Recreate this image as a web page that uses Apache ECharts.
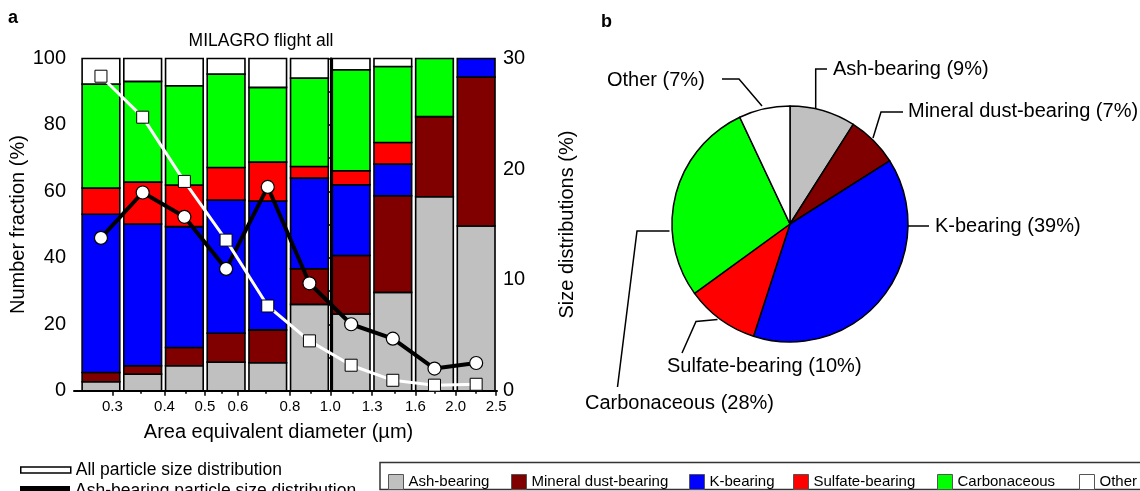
<!DOCTYPE html>
<html>
<head>
<meta charset="utf-8">
<script src="https://cdn.jsdelivr.net/npm/echarts@6/dist/echarts.min.js"></script>
<style>
  html, body { margin: 0; padding: 0; background: #fff; }
  #main { width: 1140px; height: 491px; }
</style>
</head>
<body>
<div id="main"></div>
<script>
// Size bins (area equivalent diameter, µm), log-spaced with 10 bins per decade
const binEdges = [0.251, 0.316, 0.398, 0.501, 0.631, 0.794, 1.0, 1.259, 1.585, 1.995, 2.512];

// Particle classes, bottom to top in each stacked bar
const classNames = ['Ash-bearing', 'Mineral dust-bearing', 'K-bearing', 'Sulfate-bearing', 'Carbonaceous', 'Other'];
const classColors = ['#c0c0c0', '#800000', '#0000ff', '#ff0000', '#00ff00', '#ffffff'];

// Number fraction (%) of each class per size bin
const ashFrac     = [2.7, 5.0, 7.5, 8.6, 8.4, 26.0, 23.1, 29.6, 58.4, 49.6];
const mineralFrac = [2.8, 2.5, 5.5, 8.7, 9.9, 10.7, 17.6, 29.1, 24.1, 44.8];
const kFrac       = [47.6, 42.7, 36.4, 40.1, 38.8, 27.3, 21.3, 9.5, 0, 5.6];
const sulfateFrac = [7.9, 12.6, 12.5, 9.8, 11.7, 3.5, 4.2, 6.5, 0, 0];
const carbonFrac  = [31.3, 30.3, 29.9, 28.1, 22.5, 26.6, 30.4, 22.9, 17.5, 0];
const otherFrac   = [7.7, 6.9, 8.2, 4.7, 8.7, 5.9, 3.4, 2.4, 0, 0];

// Size distributions (%) per bin
const allSizeDist = [28.4, 24.7, 18.9, 13.6, 7.65, 4.5, 2.3, 0.94, 0.5, 0.58];
const ashSizeDist = [13.8, 17.9, 15.7, 11.0, 18.4, 9.7, 6.0, 4.7, 2.0, 2.5];

// Overall class composition (%)
const pieValues = [9, 7, 39, 10, 28, 7];

// Diameter axis ticks (µm)
const xTickValues  = [0.3, 0.4, 0.5, 0.6, 0.8, 1.0, 1.26, 1.6, 2.0, 2.5];
const xMinorValues = [0.35, 0.45, 0.55, 0.7, 0.9, 1.13, 1.43, 1.78, 2.23];

const fracs = [ashFrac, mineralFrac, kFrac, sulfateFrac, carbonFrac, otherFrac];
const FONT = '"Liberation Sans", Arial, Helvetica, sans-serif';
const lg = Math.log10;

// geometric bin centres
const binCenters = binEdges.slice(0, -1).map((lo, i) => Math.sqrt(lo * binEdges[i + 1]));

function stackedBars(idx) {
  const data = binCenters.map((c, i) => {
    let base = 0;
    for (let k = 0; k < idx; k++) base += fracs[k][i];
    return [lg(binEdges[i]), lg(binEdges[i + 1]), base, base + fracs[idx][i]];
  });
  return {
    type: 'custom',
    name: classNames[idx],
    xAxisIndex: 0,
    yAxisIndex: 0,
    data: data,
    encode: { x: [0, 1], y: [2, 3] },
    itemStyle: { color: classColors[idx] },
    z: 2,
    renderItem: function (params, api) {
      const top = api.value(3), bottom = api.value(2);
      if (top - bottom <= 0) return { type: 'group', children: [] };
      const p0 = api.coord([api.value(0), top]);
      const p1 = api.coord([api.value(1), bottom]);
      return {
        type: 'rect',
        shape: { x: p0[0] + 2, y: p0[1], width: p1[0] - p0[0] - 4, height: p1[1] - p0[1] },
        style: { fill: classColors[idx], stroke: '#000', lineWidth: 1.6 }
      };
    }
  };
}

// leader-line layout for the composition labels
const pieLabelLayout = [
  { x: 833, y: 69,  line: [[815.7, 109], [815.7, 69], [827, 69]] },
  { x: 908, y: 111, line: [[873, 138], [881, 112], [903, 112]] },
  { x: 935, y: 226, line: [[908, 226], [929, 226]] },
  { x: 667, y: 366, line: [[717.5, 319.5], [696, 321.5], [682, 353]] },
  { x: 585, y: 403, line: [[669.5, 231], [637, 231], [617.5, 387]] },
  { x: 607, y: 80,  line: [[762, 106], [739, 79], [722, 79]] }
];

const legendSquareLeft = [383, 506, 684, 788, 932, 1074];

const series = [];
for (let i = 0; i < classNames.length; i++) series.push(stackedBars(i));

series.push({
  type: 'line',
  name: 'Ash-bearing particle size distribution',
  xAxisIndex: 0,
  yAxisIndex: 1,
  data: binCenters.map((c, i) => [lg(c), ashSizeDist[i]]),
  symbol: 'circle',
  symbolSize: 13,
  lineStyle: { color: '#000', width: 4 },
  itemStyle: { color: '#fff', borderColor: '#000', borderWidth: 1.2 },
  z: 5
});
series.push({
  type: 'line',
  name: 'All particle size distribution',
  xAxisIndex: 0,
  yAxisIndex: 1,
  data: binCenters.map((c, i) => [lg(c), allSizeDist[i]]),
  symbol: 'rect',
  symbolSize: 12,
  lineStyle: { color: '#fff', width: 3 },
  itemStyle: { color: '#fff', borderColor: '#000', borderWidth: 1 },
  z: 6
});

series.push({
  type: 'pie',
  center: [790, 224],
  radius: 118,
  startAngle: 90,
  clockwise: true,
  data: classNames.map((n, i) => ({ name: n, value: pieValues[i], itemStyle: { color: classColors[i] } })),
  itemStyle: { borderColor: '#000', borderWidth: 1.5 },
  label: {
    show: true,
    formatter: '{b} ({c}%)',
    color: '#000',
    fontFamily: FONT,
    fontSize: 20,
    overflow: 'none',
    edgeDistance: 0
  },
  labelLine: { show: true, lineStyle: { color: '#000', width: 1.5 } },
  labelLayout: function (params) {
    const L = pieLabelLayout[params.dataIndex];
    return { x: L.x, y: L.y, align: 'left', verticalAlign: 'middle', width: 300, labelLinePoints: L.line };
  },
  emphasis: { disabled: true }
});

const legends = [
  {
    left: 15, top: 456, icon: 'rect', itemWidth: 50, itemHeight: 6,
    selectedMode: false,
    textStyle: { fontFamily: FONT, fontSize: 17.5, color: '#000' },
    data: [{ name: 'All particle size distribution', itemStyle: { color: '#fff', borderColor: '#000', borderWidth: 1.5 } }]
  },
  {
    left: 15, top: 477, icon: 'rect', itemWidth: 50, itemHeight: 10,
    selectedMode: false,
    textStyle: { fontFamily: FONT, fontSize: 17.5, color: '#000' },
    data: [{ name: 'Ash-bearing particle size distribution', itemStyle: { color: '#000', borderWidth: 0 } }]
  }
];
classNames.forEach((n, i) => {
  legends.push({
    left: legendSquareLeft[i], top: 469, icon: 'rect', itemWidth: 15, itemHeight: 15,
    selectedMode: false,
    itemStyle: { borderColor: '#555', borderWidth: 1 },
    textStyle: { fontFamily: FONT, fontSize: 15, color: '#000', lineHeight: 16 },
    data: [n]
  });
});

const option = {
  animation: false,
  backgroundColor: '#fff',
  title: {
    text: 'MILAGRO flight all',
    left: 256, top: 27, textAlign: 'center',
    textStyle: { fontFamily: FONT, fontSize: 17.5, fontWeight: 'normal', color: '#000' }
  },
  grid: { left: 74, right: 643, top: 58.5, bottom: 100.3, containLabel: false },
  xAxis: [
    {
      type: 'value', min: -0.615, max: 0.4, position: 'bottom',
      name: 'Area equivalent diameter (µm)', nameLocation: 'middle', nameGap: 32,
      nameTextStyle: { fontFamily: FONT, fontSize: 20, color: '#000', padding: [0, 14, 0, 0] },
      axisLine: { show: true, lineStyle: { color: '#000', width: 2 } },
      axisTick: { show: true, length: 5, lineStyle: { color: '#000', width: 1.5 }, customValues: xTickValues.map(lg) },
      axisLabel: {
        show: true, customValues: xTickValues.map(lg), margin: 9,
        fontFamily: FONT, fontSize: 15, color: '#000',
        formatter: v => Math.pow(10, v).toFixed(1)
      },
      splitLine: { show: false }
    },
    {
      type: 'value', min: -0.615, max: 0.4, position: 'bottom',
      axisLine: { show: false },
      axisTick: { show: true, length: 3, lineStyle: { color: '#000', width: 1.5 }, customValues: xMinorValues.map(lg) },
      axisLabel: { show: false },
      splitLine: { show: false }
    }
  ],
  yAxis: [
    {
      type: 'value', min: 0, max: 100, interval: 20, position: 'left',
      name: 'Number fraction (%)', nameLocation: 'middle', nameGap: 42, nameRotate: 90,
      nameTextStyle: { fontFamily: FONT, fontSize: 20, color: '#000' },
      axisLine: { show: true, lineStyle: { color: '#000', width: 2 } },
      axisTick: { show: true, length: 5, lineStyle: { color: '#000', width: 1.5 } },
      minorTick: { show: true, splitNumber: 2, length: 3, lineStyle: { color: '#000', width: 1.5 } },
      axisLabel: { fontFamily: FONT, fontSize: 20, color: '#000', margin: 8 },
      splitLine: { show: false }
    },
    {
      type: 'value', min: 0, max: 30, interval: 10, position: 'right',
      name: 'Size distributions (%)', nameLocation: 'middle', nameGap: 60, nameRotate: 90,
      nameTextStyle: { fontFamily: FONT, fontSize: 20, color: '#000' },
      axisLine: { show: true, lineStyle: { color: '#000', width: 2 } },
      axisTick: { show: true, length: 5, lineStyle: { color: '#000', width: 1.5 } },
      minorTick: { show: true, splitNumber: 4, length: 3, lineStyle: { color: '#000', width: 1.5 } },
      axisLabel: { fontFamily: FONT, fontSize: 20, color: '#000', margin: 6 },
      splitLine: { show: false }
    }
  ],
  legend: legends,
  graphic: [
    { type: 'text', left: 8, top: 9, style: { text: 'a', font: 'bold 18px ' + FONT, fill: '#000' } },
    { type: 'text', left: 601, top: 13, style: { text: 'b', font: 'bold 18px ' + FONT, fill: '#000' } },
    { type: 'rect', shape: { x: 380, y: 462.5, width: 790, height: 27 }, style: { fill: 'none', stroke: '#333', lineWidth: 1.5 }, z: -1 }
  ],
  series: series
};

const chart = echarts.init(document.getElementById('main'), null, { renderer: 'canvas' });
chart.setOption(option);
</script>
</body>
</html>
